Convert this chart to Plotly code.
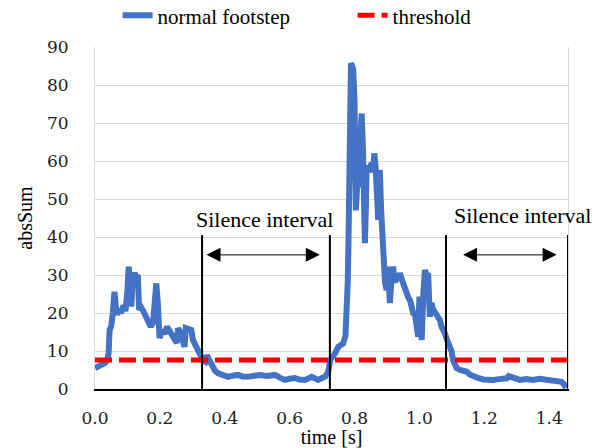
import plotly.graph_objects as go

# ---- data ----
time_s = [0.000, 0.010, 0.020, 0.030, 0.038, 0.042, 0.045, 0.050, 0.055, 0.060,
          0.064, 0.068, 0.074, 0.080, 0.088, 0.094, 0.100, 0.104, 0.108, 0.112,
          0.116, 0.122, 0.128, 0.132, 0.136, 0.142, 0.150, 0.158, 0.165, 0.172,
          0.179, 0.184, 0.189, 0.194, 0.199, 0.206, 0.214, 0.222, 0.230, 0.238,
          0.246, 0.252, 0.256, 0.263, 0.270, 0.276, 0.280, 0.290, 0.297, 0.302,
          0.310, 0.322, 0.333, 0.340, 0.345, 0.350, 0.360, 0.370, 0.380, 0.395,
          0.410, 0.425, 0.440, 0.455, 0.470, 0.490, 0.510, 0.530, 0.555, 0.570,
          0.585, 0.600, 0.616, 0.630, 0.647, 0.668, 0.680, 0.688, 0.700, 0.709,
          0.716, 0.720, 0.725, 0.730, 0.740, 0.750, 0.760, 0.765, 0.772, 0.776,
          0.779, 0.781, 0.784, 0.786, 0.789, 0.793, 0.796, 0.800, 0.802, 0.804,
          0.808, 0.812, 0.815, 0.818, 0.822, 0.826, 0.829, 0.832, 0.835, 0.837,
          0.845, 0.853, 0.857, 0.861, 0.865, 0.870, 0.873, 0.876, 0.878, 0.882,
          0.886, 0.888, 0.891, 0.894, 0.899, 0.902, 0.906, 0.909, 0.913, 0.919,
          0.924, 0.928, 0.935, 0.940, 0.945, 0.950, 0.955, 0.960, 0.966, 0.971,
          0.976, 0.982, 0.986, 0.991, 0.996, 1.000, 1.004, 1.007, 1.012, 1.017,
          1.022, 1.027, 1.032, 1.037, 1.042, 1.050, 1.058, 1.063, 1.068, 1.074,
          1.079, 1.085, 1.094, 1.099, 1.104, 1.109, 1.115, 1.125, 1.135, 1.145,
          1.155, 1.166, 1.180, 1.197, 1.212, 1.227, 1.245, 1.260, 1.269, 1.275,
          1.290, 1.310, 1.330, 1.350, 1.370, 1.392, 1.410, 1.423, 1.438, 1.446,
          1.452]
abs_sum = [5.5, 5.9, 6.3, 6.8, 7.6, 9.5, 15.5, 16.5, 20, 25.6,
           22, 19.5, 21, 20, 22, 20.5, 26, 32.2, 25, 21.7,
           29, 30.5, 29.5, 30, 20.8, 21.5, 20.3, 19, 18, 16.4,
           17.5, 22, 27.8, 22, 13.4, 15.5, 14.5, 16.4, 15, 14.2,
           13, 12.1, 16, 15, 12, 11.1, 16, 15.5, 15.5, 12.9,
           11.5, 10.3, 7.6, 7.2, 8.9, 8.0, 5.9, 4.8, 4.1, 3.6,
           3.2, 3.5, 3.7, 3.3, 3.2, 3.5, 3.7, 3.4, 3.7, 3.0,
           2.4, 2.7, 2.9, 2.5, 2.4, 3.2, 2.6, 2.4, 2.9, 3.2,
           4.0, 5.0, 7.6, 8.5, 9.4, 11.1, 11.5, 12, 14, 19,
           28, 36.6, 50, 63, 85.7, 85, 84, 76, 60, 47,
           53, 54, 62, 67, 72.5, 63, 50, 38.4, 48, 58.5,
           58, 59.4, 57, 62, 58.5, 50, 44.5, 52, 57.6, 47,
           40, 36.6, 33, 28, 26, 32.2, 27, 22.6, 28, 32.2,
           28, 29.6, 28.7, 30.5, 29, 27.8, 26, 25.2, 24, 23.4,
           20.8, 19.5, 19.9, 17.3, 13.8, 24.3, 20, 12.9, 25, 31.3,
           30, 30.4, 19, 22.6, 21, 20, 19.2, 18.2, 16.4, 15.5,
           14.6, 12.9, 11.1, 10, 7.5, 6.8, 5.5, 5.0, 4.8, 4.6,
           3.8, 3.2, 2.9, 2.5, 2.4, 2.4, 2.6, 2.7, 2.8, 3.4,
           2.8, 2.4, 2.6, 2.4, 2.7, 2.5, 2.5, 2.4, 1.9, 1.2,
           0.3]

threshold_x = [0.0, 1.458]
threshold_y = [7.6, 7.6]

silence_bounds = [0.330, 0.724, 1.082, 1.458]
bound_top = 40.5
arrow_spans = [(0.339, 0.693), (1.130, 1.423)]
arrow_level = 35.3
label_pos = [(0.521, 44.6), (1.318, 45.6)]
label_text = "Silence interval"

x_ticks = [0.0, 0.2, 0.4, 0.6, 0.8, 1.0, 1.2, 1.4]
y_ticks = [0, 10, 20, 30, 40, 50, 60, 70, 80, 90]

SERIF = "Liberation Serif, Times New Roman, serif"
TICKF = "DejaVu Serif, serif"

fig = go.Figure()
fig.add_trace(go.Scatter(x=time_s, y=abs_sum, mode="lines", name="normal footstep",
                         line=dict(color="#4472C4", width=6), cliponaxis=False))
fig.add_trace(go.Scatter(x=threshold_x, y=threshold_y, mode="lines", name="threshold",
                         line=dict(color="#FF0000", width=5, dash="17px,7px")))

for xb in silence_bounds:
    fig.add_shape(type="line", xref="x", yref="y", x0=xb, x1=xb, y0=0, y1=bound_top,
                  line=dict(color="black", width=2))

for (a, b) in arrow_spans:
    fig.add_annotation(x=b, y=arrow_level, ax=a, ay=arrow_level, xref="x", yref="y",
                       axref="x", ayref="y", text="", showarrow=True,
                       arrowside="end+start", arrowhead=2, startarrowhead=2,
                       arrowsize=2.8, startarrowsize=2.8, arrowwidth=1, arrowcolor="black")

for (lx, ly) in label_pos:
    fig.add_annotation(x=lx, y=ly, xref="x", yref="y", text=label_text, showarrow=False,
                       font=dict(family=SERIF, size=22, color="black"))

fig.update_layout(
    width=597, height=448,
    margin=dict(l=95, r=29, t=47, b=59, autoexpand=False),
    paper_bgcolor="white", plot_bgcolor="white",
    font=dict(family=SERIF, size=20, color="black"),
    showlegend=True,
    legend=dict(orientation="h", xref="container", yref="container",
                x=0.197, xanchor="left", y=0.965, yanchor="middle",
                font=dict(family=SERIF, size=21, color="black"),
                bgcolor="rgba(0,0,0,0)", entrywidth=190, entrywidthmode="pixels"),
    xaxis=dict(range=[0, 1.458], tickvals=x_ticks, tickformat=".1f",
               showgrid=False, zeroline=False, showline=True, linecolor="black",
               linewidth=1.5, ticks="", ticklabelstandoff=13,
               tickfont=dict(family=TICKF, size=17, color="#222"),
               title=dict(text="time [s]", font=dict(family=SERIF, size=20, color="black"),
                          standoff=9)),
    yaxis=dict(range=[0, 90], tickvals=y_ticks, showgrid=True, gridcolor="#D9D9D9",
               gridwidth=1, zeroline=False, showline=True, linecolor="#D9D9D9",
               mirror=True, ticks="", ticklabelstandoff=22,
               tickfont=dict(family=TICKF, size=17, color="#222"),
               title=dict(text="absSum", font=dict(family=SERIF, size=20, color="black"),
                          standoff=8)),
)

fig.write_html("out.html")
